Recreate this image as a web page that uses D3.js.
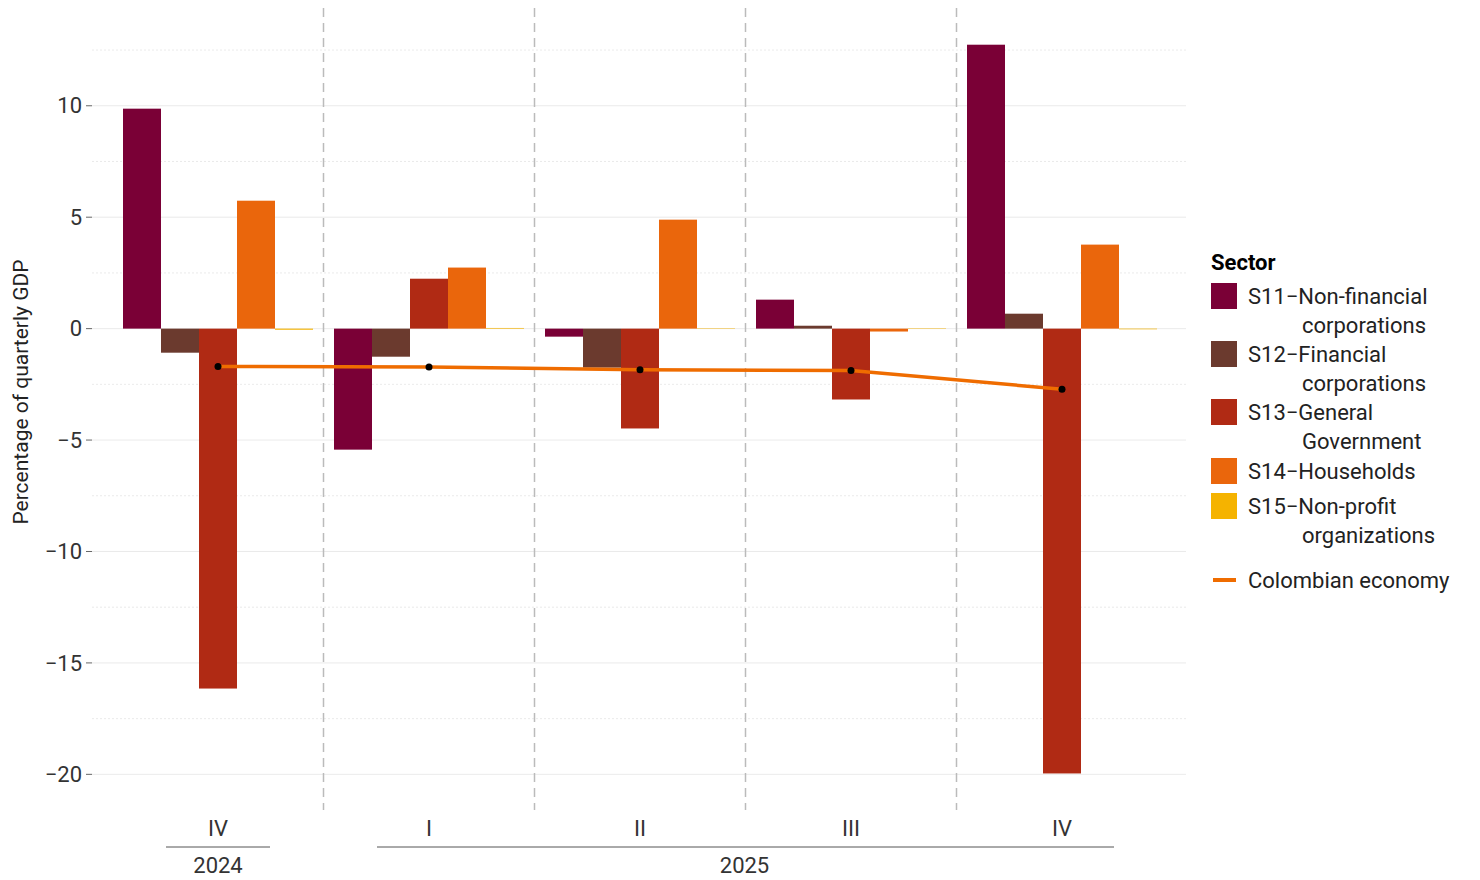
<!DOCTYPE html>
<html><head><meta charset="utf-8">
<script src="https://cdn.jsdelivr.net/npm/d3@7"></script>
<style>body{margin:0;background:#fff;font-family:Roboto,sans-serif}</style>
</head><body><svg id="c" width="1480" height="880"></svg>
<script>
const quarters = ["IV","I","II","III","IV"]
const years = [{label:"2024", from:0, to:0}, {label:"2025", from:1, to:4}]
const sectors = ["S11","S12","S13","S14","S15"]
const legendLabels = [["S11\u2212Non-financial","corporations"],["S12\u2212Financial","corporations"],["S13\u2212General","Government"],["S14\u2212Households"],["S15\u2212Non-profit","organizations"]]
const colors = ["#7a0036","#6b3a2e","#b02a14","#ea660c","#f5b300"]
const s11 = [9.87, -5.43, -0.36, 1.30, 12.74]
const s12 = [-1.08, -1.26, -1.75, 0.13, 0.67]
const s13 = [-16.15, 2.24, -4.48, -3.18, -19.96]
const s14 = [5.74, 2.74, 4.89, -0.13, 3.77]
const s15 = [-0.05, 0.03, 0.02, 0.02, -0.03]
const economy = [-1.70, -1.72, -1.84, -1.88, -2.72]
const series = [s11, s12, s13, s14, s15]

const svg = d3.select("#c")
const y = d3.scaleLinear().domain([-21.6, 13.4]).range([810, 30])
const x = d3.scaleBand().domain(d3.range(5)).range([112.5, 1167.5])
const xs = d3.scaleBand().domain(d3.range(5)).range([0, 190])
const off = (x.bandwidth() - 190) / 2

// grid
svg.append("g").selectAll("line").data(d3.range(-20, 13.5, 2.5)).join("line")
    .attr("x1", 92).attr("x2", 1186)
    .attr("y1", d => y(d)).attr("y2", d => y(d))
    .style("stroke", "#e4e4e4").style("stroke-width", 0.8)
    .style("stroke-dasharray", d => d % 5 === 0 ? null : "2,2")

// y axis labels
svg.append("g").selectAll("text").data(d3.range(-20, 11, 5)).join("text")
    .attr("x", 82).attr("y", d => y(d)).attr("dy", "0.35em")
    .attr("text-anchor", "end").style("font-size", "22px").style("fill", "#333")
    .text(d => d < 0 ? "\u2212" + Math.abs(d) : d)
svg.append("g").selectAll("line").data(d3.range(-20, 11, 5)).join("line")
    .attr("x1", 86).attr("x2", 92).attr("y1", d => y(d)).attr("y2", d => y(d))
    .style("stroke", "#666")
svg.append("text").attr("transform", "translate(28,392) rotate(-90)")
    .attr("text-anchor", "middle").style("font-size", "21px").style("fill", "#222")
    .text("Percentage of quarterly GDP")

// separators
svg.append("g").selectAll("line").data(d3.range(1, 5)).join("line")
    .attr("x1", d => x(d)).attr("x2", d => x(d)).attr("y1", 8).attr("y2", 810)
    .style("stroke", "#bbb").style("stroke-width", 1.5).style("stroke-dasharray", "9,6")

// bars
series.forEach((vals, si) => {
    svg.append("g").selectAll("rect").data(vals).join("rect")
        .attr("x", (d, i) => x(i) + off + xs(si))
        .attr("width", xs.bandwidth())
        .attr("y", d => y(Math.max(0, d)))
        .attr("height", d => Math.abs(y(d) - y(0)))
        .style("fill", colors[si])
})

// economy line
const cx = i => x(i) + x.bandwidth() / 2
svg.append("path").datum(economy)
    .attr("d", d3.line().x((d, i) => cx(i)).y(d => y(d)))
    .style("fill", "none").style("stroke", "#ef6c00").style("stroke-width", 3.5)
svg.append("g").selectAll("circle").data(economy).join("circle")
    .attr("cx", (d, i) => cx(i)).attr("cy", d => y(d)).attr("r", 3.5).style("fill", "#000")

// x labels
svg.append("g").selectAll("text").data(quarters).join("text")
    .attr("x", (d, i) => cx(i)).attr("y", 836).attr("text-anchor", "middle")
    .style("font-size", "22px").style("fill", "#333").text(d => d)
years.forEach(yr => {
    const x1 = cx(yr.from) - 52, x2 = cx(yr.to) + 52
    svg.append("line").attr("x1", x1).attr("x2", x2).attr("y1", 847).attr("y2", 847)
        .style("stroke", "#555")
    svg.append("text").attr("x", (cx(yr.from) + cx(yr.to)) / 2 + (yr.to > yr.from ? -1 : 0)).attr("y", 873)
        .attr("text-anchor", "middle").style("font-size", "22px").style("fill", "#333").text(yr.label)
})

// legend
const lg = svg.append("g").attr("transform", "translate(1211,0)")
lg.append("text").attr("x", 0).attr("y", 270).style("font-size", "22px")
    .style("font-weight", "bold").text("Sector")
const rowsY = [296, 354, 412, 471, 506]
legendLabels.forEach((lab, i) => {
    lg.append("rect").attr("x", 0).attr("y", rowsY[i] - 13).attr("width", 26).attr("height", 26)
        .style("fill", colors[i])
    lab.forEach((t, j) => {
        lg.append("text").attr("x", j ? 91 : 37).attr("y", rowsY[i] + j * 29).attr("dy", "0.35em")
            .style("font-size", "22px").style("fill", "#222").text(t)
    })
})
lg.append("line").attr("x1", 2).attr("x2", 25).attr("y1", 580).attr("y2", 580)
    .style("stroke", "#ef6c00").style("stroke-width", 4)
lg.append("text").attr("x", 37).attr("y", 580).attr("dy", "0.35em")
    .style("font-size", "22px").style("fill", "#222").text("Colombian economy")
</script></body></html>
